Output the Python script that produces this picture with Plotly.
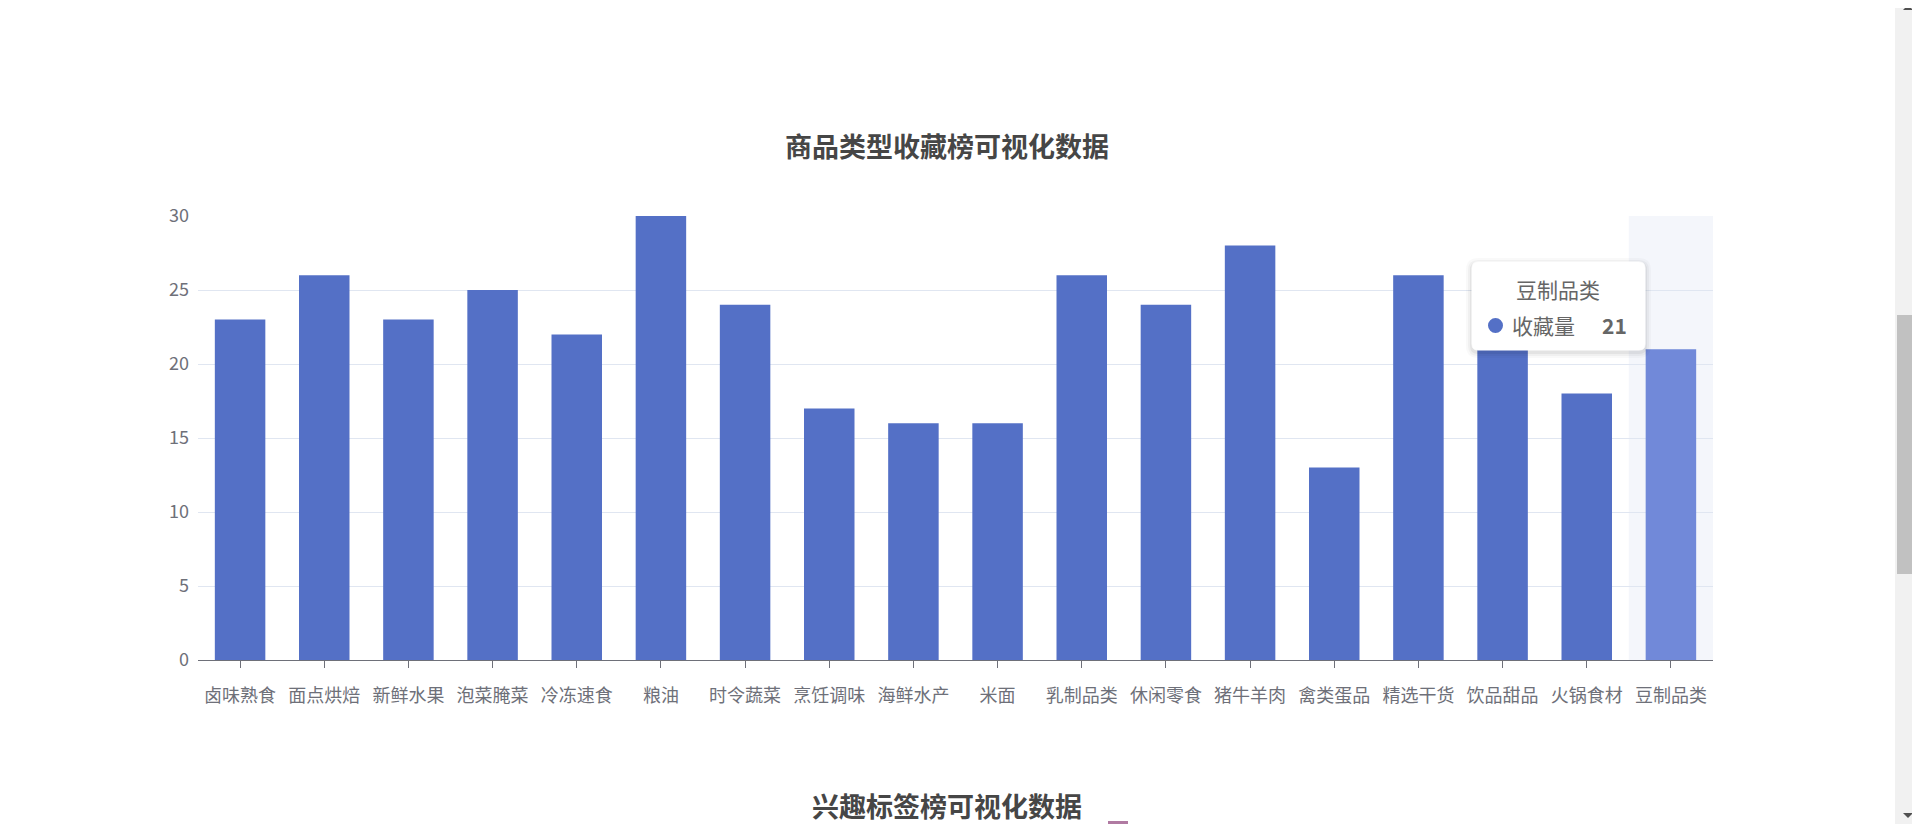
import plotly.graph_objects as go

# --- data ---
categories = ["卤味熟食", "面点烘焙", "新鲜水果", "泡菜腌菜", "冷冻速食", "粮油",
              "时令蔬菜", "烹饪调味", "海鲜水产", "米面", "乳制品类", "休闲零食",
              "猪牛羊肉", "禽类蛋品", "精选干货", "饮品甜品", "火锅食材", "豆制品类"]
collect_counts = [23, 26, 23, 25, 22, 30, 24, 17, 16, 16, 26, 24, 28, 13, 26, 21, 18, 21]
y_ticks = [0, 5, 10, 15, 20, 25, 30]
series_name = "收藏量"
title_main = "商品类型收藏榜可视化数据"
title_next = "兴趣标签榜可视化数据"
hovered = "豆制品类"

FONT = "Noto Sans CJK SC, Microsoft YaHei, sans-serif"
BAR = "#5470c6"
BAR_HI = "#7189d9"
AXIS = "#6e7079"

# screen is 1920x824, the page body adds an 8px margin around the figure
BODY = 8
W, H = 1920 - BODY, 824 - BODY
L, R, T, B = 198, 1713, 216, 660  # plot area in screen pixels


def px_x(v):
    return (v - L) / (R - L)


def px_y(v):
    return (B - v) / (B - T)


def rounded_rect(x0, y0, x1, y1, r):
    a, b, c, d = px_x(x0), px_y(y0), px_x(x1), px_y(y1)
    ar, cr = px_x(x0 + r), px_x(x1 - r)
    br, dr = px_y(y0 + r), px_y(y1 - r)
    return (f"M {ar},{b} L {cr},{b} Q {c},{b} {c},{br} L {c},{dr} Q {c},{d} {cr},{d} "
            f"L {ar},{d} Q {a},{d} {a},{dr} L {a},{br} Q {a},{b} {ar},{b} Z")


hi_idx = categories.index(hovered)
colors = [BAR_HI if i == hi_idx else BAR for i in range(len(categories))]

fig = go.Figure(go.Bar(
    x=categories, y=collect_counts, name=series_name,
    marker=dict(color=colors, line=dict(width=0)),
    hoverinfo="skip",
))

shapes = []
# axisPointer shadow on the hovered category
shapes.append(dict(type="rect", xref="x", yref="paper", x0=hi_idx - 0.5, x1=hi_idx + 0.5,
                   y0=0, y1=1, fillcolor="rgba(210,219,238,0.25)", line=dict(width=0),
                   layer="below"))

# tooltip box with soft shadow
for k, a in [(6, 0.025), (4, 0.035), (2, 0.05)]:
    shapes.append(dict(type="path", xref="paper", yref="paper",
                       path=rounded_rect(1472 - k, 262 - k + 2, 1645 + k, 350 + k + 2, 6 + k),
                       fillcolor=f"rgba(0,0,0,{a})", line=dict(width=0)))
shapes.append(dict(type="path", xref="paper", yref="paper",
                   path=rounded_rect(1472, 262, 1645, 350, 6),
                   fillcolor="white", line=dict(color="#ffffff", width=1)))
# tooltip marker dot
shapes.append(dict(type="circle", xref="paper", yref="paper",
                   x0=px_x(1488), x1=px_x(1503), y0=px_y(333), y1=px_y(318),
                   fillcolor=BAR, line=dict(width=0)))

# small piece of next chart's legend peeking in
shapes.append(dict(type="rect", xref="paper", yref="paper",
                   x0=px_x(1108), x1=px_x(1128), y0=px_y(824), y1=px_y(821),
                   fillcolor="#b07aa2", line=dict(width=0)))

# browser scrollbar
shapes.append(dict(type="rect", xref="paper", yref="paper",
                   x0=px_x(1895), x1=px_x(1920), y0=px_y(824), y1=px_y(0),
                   fillcolor="#f1f1f1", line=dict(width=0)))
shapes.append(dict(type="rect", xref="paper", yref="paper",
                   x0=px_x(1897), x1=px_x(1918), y0=px_y(574), y1=px_y(315),
                   fillcolor="#c1c1c1", line=dict(width=0)))
shapes.append(dict(type="path", xref="paper", yref="paper",
                   path=f"M {px_x(1903)},{px_y(10)} L {px_x(1913)},{px_y(10)} L {px_x(1908)},{px_y(5)} Z",
                   fillcolor="#505050", line=dict(width=0)))
shapes.append(dict(type="path", xref="paper", yref="paper",
                   path=f"M {px_x(1903)},{px_y(813)} L {px_x(1913)},{px_y(813)} L {px_x(1908)},{px_y(818)} Z",
                   fillcolor="#505050", line=dict(width=0)))

annotations = [
    dict(text=f"<b>{title_main}</b>", x=px_x(947), y=px_y(145), xref="paper", yref="paper",
         showarrow=False, xanchor="center", yanchor="middle",
         font=dict(family=FONT, size=27, color="#464646")),
    dict(text=f"<b>{title_next}</b>", x=px_x(947), y=px_y(805), xref="paper", yref="paper",
         showarrow=False, xanchor="center", yanchor="middle",
         font=dict(family=FONT, size=27, color="#464646")),
    dict(text=hovered, x=px_x(1558), y=px_y(289), xref="paper", yref="paper",
         showarrow=False, xanchor="center", yanchor="middle",
         font=dict(family=FONT, size=21, color="#666666")),
    dict(text=series_name, x=px_x(1510), y=px_y(325), xref="paper", yref="paper",
         showarrow=False, xanchor="left", yanchor="middle",
         font=dict(family=FONT, size=21, color="#666666")),
    dict(text=f"<b>{collect_counts[hi_idx]}</b>", x=px_x(1629), y=px_y(325), xref="paper", yref="paper",
         showarrow=False, xanchor="right", yanchor="middle",
         font=dict(family=FONT, size=21, color="#666666")),
]

fig.update_layout(
    width=W, height=H,
    margin=dict(l=L - BODY, r=1920 - R, t=T - BODY, b=824 - B, pad=0),
    plot_bgcolor="white", paper_bgcolor="white",
    font=dict(family=FONT, color=AXIS),
    showlegend=False,
    hovermode=False,
    bargap=0.4,
    shapes=shapes,
    annotations=annotations,
    xaxis=dict(
        type="category", range=[-0.5, len(categories) - 0.5],
        showline=True, linecolor=AXIS, linewidth=1,
        ticks="outside", ticklen=7, tickcolor=AXIS, tickwidth=1,
        tickfont=dict(family=FONT, size=18, color=AXIS),
        ticklabelstandoff=12,
        showgrid=False, zeroline=False, fixedrange=True,
    ),
    yaxis=dict(
        range=[0, 30], tickvals=y_ticks, ticktext=[str(v) for v in y_ticks],
        showline=False, ticks="", zeroline=False,
        showgrid=True, gridcolor="#e0e6f1", gridwidth=1,
        tickfont=dict(family=FONT, size=18, color=AXIS),
        ticklabelstandoff=8, fixedrange=True,
    ),
)

fig.write_html("out.html")
